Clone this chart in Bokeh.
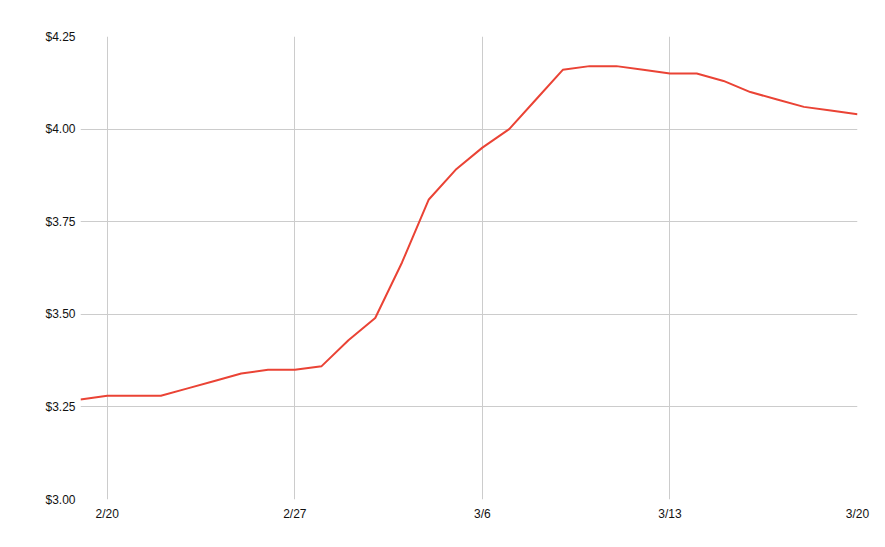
import pandas as pd
from bokeh.plotting import figure
from bokeh.models import FixedTicker, NumeralTickFormatter, CustomJSTickFormatter, Range1d, ColumnDataSource
from bokeh.embed import file_html
from bokeh.resources import INLINE

dates = ["2023-02-19", "2023-02-20", "2023-02-21", "2023-02-22", "2023-02-23", "2023-02-24",
         "2023-02-25", "2023-02-26", "2023-02-27", "2023-02-28", "2023-03-01", "2023-03-02",
         "2023-03-03", "2023-03-04", "2023-03-05", "2023-03-06", "2023-03-07", "2023-03-08",
         "2023-03-09", "2023-03-10", "2023-03-11", "2023-03-12", "2023-03-13", "2023-03-14",
         "2023-03-15", "2023-03-16", "2023-03-17", "2023-03-18", "2023-03-19", "2023-03-20"]
prices = [3.27, 3.28, 3.28, 3.28, 3.30, 3.32,
          3.34, 3.35, 3.35, 3.36, 3.43, 3.49,
          3.64, 3.81, 3.89, 3.95, 4.00, 4.08,
          4.16, 4.17, 4.17, 4.16, 4.15, 4.15,
          4.13, 4.10, 4.08, 4.06, 4.05, 4.04]
x_ticks = ["2023-02-20", "2023-02-27", "2023-03-06", "2023-03-13", "2023-03-20"]
y_ticks = [3.00, 3.25, 3.50, 3.75, 4.00, 4.25]

dt = pd.to_datetime(dates)
src = ColumnDataSource(dict(x=dt, y=prices))

p = figure(width=877, height=539, output_backend="svg", toolbar_location=None,
           x_axis_type="datetime",
           min_border_left=80, min_border_right=20, min_border_top=36, min_border_bottom=40)
p.x_range = Range1d(dt[0], dt[-1])
p.y_range = Range1d(3.0, 4.25)

p.line("x", "y", source=src, line_color="#EA4335", line_width=2)

tick_ms = [pd.Timestamp(t).value / 1e6 for t in x_ticks]
p.xaxis.ticker = FixedTicker(ticks=tick_ms, minor_ticks=[])
p.xaxis.formatter = CustomJSTickFormatter(code="""
const d = new Date(tick);
return (d.getUTCMonth() + 1) + "/" + d.getUTCDate();
""")
p.yaxis.ticker = FixedTicker(ticks=y_ticks, minor_ticks=[])
p.yaxis.formatter = NumeralTickFormatter(format="$0.00")

for ax in (p.xaxis, p.yaxis):
    ax.axis_line_color = None
    ax.major_tick_line_color = None
    ax.minor_tick_line_color = None
    ax.major_tick_out = 0
    ax.major_tick_in = 0
    ax.major_label_text_font = "Liberation Sans"
    ax.major_label_text_font_size = "12px"
    ax.major_label_text_color = "#111111"
p.yaxis.major_label_standoff = 5
p.xaxis.major_label_standoff = 7

p.xgrid.grid_line_color = "#cccccc"
p.ygrid.grid_line_color = "#cccccc"
p.xgrid.grid_line_width = 1
p.ygrid.grid_line_width = 1
p.outline_line_color = None
p.background_fill_color = "white"
p.border_fill_color = "white"

open("out.html", "w").write(file_html(p, INLINE))
